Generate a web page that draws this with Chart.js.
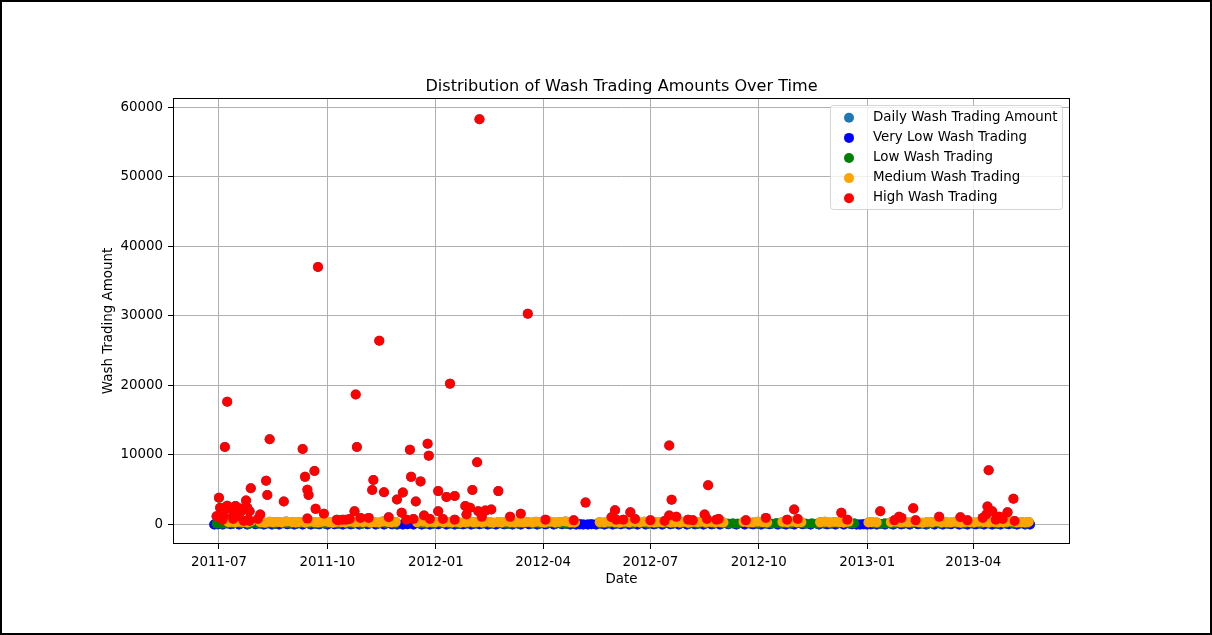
<!DOCTYPE html>
<html>
<head>
<meta charset="utf-8">
<script src="https://cdn.jsdelivr.net/npm/chart.js@4.4.1/dist/chart.umd.min.js"></script>
<style>
  html, body { margin: 0; padding: 0; background: #fff; }
  #wrap { width: 1212px; height: 635px; }
</style>
</head>
<body>
<div id="wrap"><canvas id="washChart"></canvas></div>
<script>
// x values are days counted from 2011-07-01
const startDate = '2011-07-01';
const xTickLabels = ['2011-07', '2011-10', '2012-01', '2012-04', '2012-07', '2012-10', '2013-01', '2013-04'];
const yTicks = [0, 10000, 20000, 30000, 40000, 50000, 60000];

const veryLowWash = [[-4,10],[-1,22],[3,15],[10,30],[17,8],[24,18],[31,26],[38,12],[45,20],[51,5],[58,28],[64,14],[71,19],[78,9],[85,24],[92,16],[98,31],[105,11],[112,21],[119,7],[126,27],[133,13],[140,18],[147,24],[151,6],[156,15],[160,29],[165,10],[172,20],[179,14],[186,26],[193,9],[200,17],[207,23],[214,12],[221,30],[228,8],[235,19],[242,25],[249,11],[256,16],[263,28],[270,7],[277,21],[284,13],[291,27],[298,10],[303,18],[306,24],[309,6],[313,15],[316,29],[320,12],[327,20],[334,9],[341,26],[348,14],[355,19],[362,8],[369,23],[376,16],[383,30],[390,11],[397,18],[404,25],[411,7],[418,21],[425,13],[432,28],[439,10],[446,17],[453,22],[460,9],[467,26],[474,15],[481,20],[488,12],[495,27],[502,8],[509,19],[516,24],[523,11],[530,16],[537,29],[541,6],[544,14],[547,21],[550,10],[553,25],[558,13],[565,18],[572,7],[579,23],[586,15],[593,28],[600,9],[607,20],[614,12],[621,26],[628,17],[635,8],[642,22],[649,14],[656,19],[663,11],[670,27],[677,16],[684,9],[688,20]];

const lowWash = [[-2,120],[2,95],[7,160],[12,110],[19,140],[25,85],[28,175],[33,130],[36,100],[41,150],[47,90],[55,165],[60,120],[66,105],[69,180],[76,135],[82,95],[86,155],[90,115],[95,170],[101,100],[108,145],[114,125],[121,90],[128,160],[135,110],[142,140],[149,95],[170,150],[175,120],[182,105],[189,170],[196,130],[203,90],[210,155],[217,115],[224,140],[231,100],[238,165],[243,125],[246,95],[250,150],[254,110],[259,175],[266,130],[272,100],[279,145],[286,115],[290,160],[295,90],[300,135],[324,120],[330,155],[337,100],[344,140],[351,110],[358,170],[364,95],[371,130],[378,150],[385,105],[392,165],[399,120],[406,90],[413,145],[420,115],[427,160],[432,100],[436,135],[440,120],[450,150],[457,95],[464,130],[469,110],[473,170],[478,125],[485,100],[494,150],[498,115],[503,140],[508,95],[513,160],[519,120],[525,135],[535,105],[539,150],[556,125],[561,90],[565,160],[570,115],[574,140],[581,100],[588,155],[596,120],[601,95],[605,145],[612,130],[618,110],[625,165],[632,100],[639,140],[646,115],[653,150],[660,95],[667,135],[674,120],[680,160],[685,105]];

const mediumWash = [[8,320],[11,380],[14,290],[17,410],[20,350],[24,300],[27,440],[35,330],[39,270],[43,390],[46,310],[50,360],[53,280],[57,420],[62,340],[65,300],[68,370],[73,260],[77,400],[81,320],[84,290],[87,350],[91,430],[94,310],[97,270],[100,380],[104,340],[107,300],[111,410],[115,280],[118,360],[122,320],[125,390],[129,270],[132,340],[136,300],[139,420],[143,350],[146,290],[150,370],[168,310],[173,400],[177,280],[181,350],[184,320],[188,440],[191,290],[195,360],[198,300],[202,380],[205,270],[209,340],[212,410],[216,310],[219,350],[223,290],[226,390],[230,320],[233,270],[237,360],[240,300],[244,420],[247,330],[251,280],[255,370],[258,310],[262,350],[266,290],[269,400],[273,330],[276,270],[281,380],[285,300],[289,350],[294,420],[298,310],[302,280],[323,340],[327,290],[332,380],[336,320],[340,270],[344,410],[348,300],[353,350],[357,290],[361,390],[365,330],[369,280],[372,360],[376,310],[380,420],[383,290],[387,340],[391,300],[394,380],[398,270],[402,350],[406,320],[409,410],[413,290],[417,360],[421,300],[425,340],[428,280],[445,370],[449,310],[453,290],[457,400],[461,330],[465,280],[478,350],[482,300],[486,420],[490,290],[494,340],[510,310],[514,380],[518,280],[522,350],[526,320],[530,270],[534,400],[551,300],[554,360],[558,290],[570,340],[574,410],[578,300],[581,350],[585,280],[589,390],[593,320],[597,270],[601,360],[605,310],[609,430],[613,290],[617,340],[621,300],[625,380],[629,270],[633,350],[637,320],[641,290],[645,400],[649,330],[653,280],[657,370],[661,310],[665,290],[669,350],[673,420],[677,300],[681,340],[684,280],[687,360]];

const highWash = [[221,58250],[84,37000],[262,30300],[136,26400],[196,20250],[116,18700],[7,17650],[5,11150],[43,12250],[71,10850],[117,11150],[162,10750],[177,11600],[178,9900],[382,11350],[219,8950],[81,7700],[73,6850],[163,6850],[40,6300],[171,6200],[131,6400],[75,5000],[76,4250],[415,5650],[653,7800],[27,5200],[41,4250],[130,4950],[140,4650],[156,4600],[186,4800],[215,4950],[237,4800],[193,3950],[200,4100],[55,3300],[23,3450],[151,3600],[167,3300],[311,3150],[384,3550],[674,3700],[0,3850],[82,2250],[488,2150],[589,2350],[652,2600],[336,2050],[561,1900],[528,1700],[349,1750],[1,2400],[7,2700],[14,2650],[8,2300],[15,1900],[18,2300],[19,1900],[24,2400],[26,1900],[17,1200],[12,1200],[4,1200],[35,1450],[-2,1200],[26,500],[21,500],[89,1550],[75,850],[100,700],[0,1200],[3,700],[25,700],[12,800],[33,800],[115,1900],[155,1700],[174,1300],[186,1900],[209,2650],[213,2400],[210,1450],[220,1900],[108,700],[120,950],[127,950],[144,1050],[159,700],[165,800],[179,800],[190,800],[200,700],[231,2150],[226,2000],[223,1100],[247,1100],[256,1550],[277,700],[301,600],[333,1050],[337,700],[343,700],[353,800],[382,1300],[388,1100],[378,500],[398,700],[402,600],[412,1450],[414,800],[422,700],[424,800],[447,600],[366,600],[464,950],[482,700],[491,800],[533,700],[573,600],[577,1100],[579,950],[591,600],[611,1100],[629,1050],[635,600],[648,950],[656,1900],[662,1100],[669,1750],[675,500],[651,1450],[659,700],[665,800],[101,600],[105,700],[111,800]];

const seriesNames = ['Daily Wash Trading Amount', 'Very Low Wash Trading', 'Low Wash Trading', 'Medium Wash Trading', 'High Wash Trading'];
const seriesColors = ['#1f77b4', '#0000ff', '#008000', '#ffa500', '#ff0000'];

const DAY = 86400000;
const base = Date.parse(startDate + 'T00:00:00Z');
const toPoints = (rows) => rows.map(r => ({ x: base + r[0] * DAY, y: r[1] }));
const monthValue = (label) => Date.parse(label + '-01T00:00:00Z');

// every day is plotted once as the daily series, then covered by its category
const dailyWash = [].concat(veryLowWash, lowWash, mediumWash, highWash).sort((a, b) => a[0] - b[0]);
const seriesData = [dailyWash, veryLowWash, lowWash, mediumWash, highWash];

Chart.defaults.font.family = "'DejaVu Sans', sans-serif";
Chart.defaults.font.size = 13.4;
Chart.defaults.color = '#000';

const pageFrame = {
  id: 'pageFrame',
  beforeDraw(chart) {
    const ctx = chart.ctx;
    ctx.save();
    ctx.fillStyle = '#fff';
    ctx.fillRect(0, 0, chart.width, chart.height);
    ctx.restore();
  },
  afterDraw(chart) {
    const ctx = chart.ctx;
    const a = chart.chartArea;
    ctx.save();
    // axes spines
    ctx.strokeStyle = '#000';
    ctx.lineWidth = 1;
    ctx.strokeRect(Math.round(a.left) + 0.5, Math.round(a.top) + 0.5,
      Math.round(a.right - a.left) - 1, Math.round(a.bottom - a.top) - 1);

    // legend, upper right
    const lx = 830.5, ly = 105.5, lw = 232, lh = 104, r = 3;
    ctx.beginPath();
    ctx.moveTo(lx + r, ly);
    ctx.arcTo(lx + lw, ly, lx + lw, ly + lh, r);
    ctx.arcTo(lx + lw, ly + lh, lx, ly + lh, r);
    ctx.arcTo(lx, ly + lh, lx, ly, r);
    ctx.arcTo(lx, ly, lx + lw, ly, r);
    ctx.closePath();
    ctx.fillStyle = 'rgba(255,255,255,0.8)';
    ctx.fill();
    ctx.strokeStyle = 'rgba(204,204,204,0.8)';
    ctx.stroke();
    ctx.font = "13.4px 'DejaVu Sans', sans-serif";
    ctx.textBaseline = 'middle';
    ctx.textAlign = 'left';
    seriesNames.forEach((name, i) => {
      const y = 116.8 + i * 20.1;
      ctx.beginPath();
      ctx.arc(849, y + 1, 5, 0, Math.PI * 2);
      ctx.fillStyle = seriesColors[i];
      ctx.fill();
      ctx.fillStyle = '#000';
      ctx.fillText(name, 873, y + 0.5);
    });

    // page frame
    ctx.strokeStyle = '#000';
    ctx.lineWidth = 2;
    ctx.strokeRect(1, 1, chart.width - 2, chart.height - 2);
    ctx.restore();
  }
};

const ctx = document.getElementById('washChart');
new Chart(ctx, {
  type: 'scatter',
  data: {
    datasets: seriesNames.map((name, i) => ({
      label: name,
      data: toPoints(seriesData[i]),
      backgroundColor: seriesColors[i],
      borderColor: seriesColors[i],
      borderWidth: 0,
      pointRadius: 5,
      pointHoverRadius: 5,
      order: seriesNames.length - i
    }))
  },
  options: {
    responsive: true,
    maintainAspectRatio: false,
    animation: false,
    layout: { padding: { left: 90, right: 142, top: 0, bottom: 45 } },
    plugins: {
      legend: { display: false },
      tooltip: { enabled: false },
      title: {
        display: true,
        fullSize: false,
        text: 'Distribution of Wash Trading Amounts Over Time',
        font: { size: 16.1, weight: 'normal', lineHeight: 1.2 },
        color: '#000',
        padding: { top: 77, bottom: 1.7 }
      }
    },
    scales: {
      x: {
        type: 'linear',
        min: base - 39 * DAY,
        max: base + 722 * DAY,
        z: 1,
        afterBuildTicks: (scale) => { scale.ticks = xTickLabels.map(l => ({ value: monthValue(l) })); },
        afterFit: (scale) => { scale.height = 46; },
        ticks: {
          autoSkip: false,
          maxRotation: 0,
          padding: 5,
          callback: (v) => xTickLabels.find(l => monthValue(l) === v) || ''
        },
        grid: { color: '#b0b0b0', lineWidth: 1, tickColor: '#000', tickLength: 5, tickWidth: 1 },
        border: { display: false },
        title: { display: true, text: 'Date', padding: { top: 0, bottom: 2 } }
      },
      y: {
        min: -2800,
        max: 61300,
        z: 1,
        afterBuildTicks: (scale) => { scale.ticks = yTicks.map(v => ({ value: v })); },
        afterFit: (scale) => { scale.width = 83; },
        ticks: { padding: 5, callback: (v) => String(v) },
        grid: { color: '#b0b0b0', lineWidth: 1, tickColor: '#000', tickLength: 5, tickWidth: 1 },
        border: { display: false },
        title: { display: true, text: 'Wash Trading Amount', padding: { top: 10, bottom: 0 } }
      }
    }
  },
  plugins: [pageFrame]
});
</script>
</body>
</html>
